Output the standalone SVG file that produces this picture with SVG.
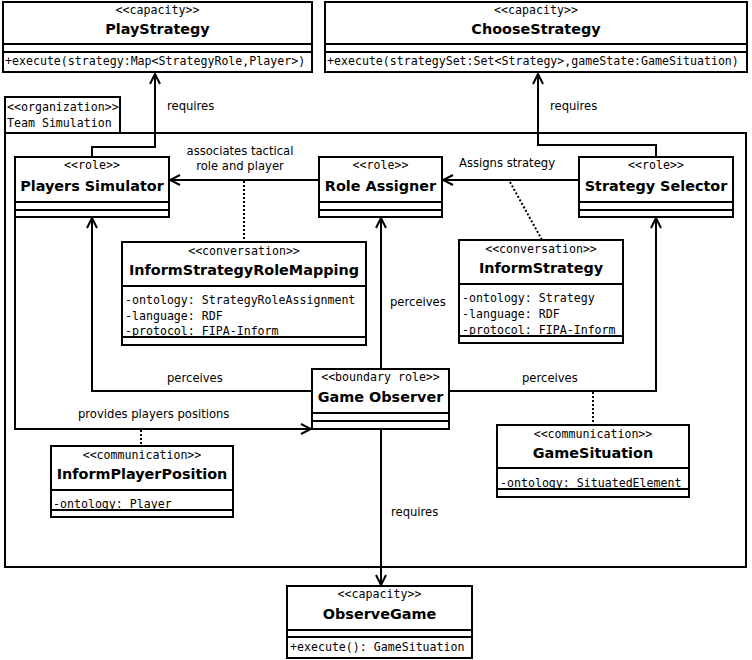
<svg xmlns="http://www.w3.org/2000/svg" width="752" height="660" viewBox="0 0 752 660">
<defs>
<style>
.box{fill:#fff;stroke:#000;stroke-width:2}
.ln{stroke:#000;stroke-width:2;fill:none}
.dot{stroke:#000;stroke-width:2;fill:none;stroke-dasharray:2,2}
.mono{font-family:"DejaVu Sans Mono","Liberation Mono",monospace;font-size:11.6px;fill:#000}
.st{font-family:"DejaVu Sans Mono","Liberation Mono",monospace;font-size:11.6px;fill:#000;text-anchor:middle}
.nm{font-family:"DejaVu Sans","Liberation Sans",sans-serif;font-size:14.4px;font-weight:bold;fill:#000;text-anchor:middle}
.lb{font-family:"DejaVu Sans","Liberation Sans",sans-serif;font-size:11.6px;fill:#000}
</style>
<marker id="arr" viewBox="0 0 12 12" refX="11" refY="6" markerWidth="12" markerHeight="12" markerUnits="userSpaceOnUse" orient="auto">
<path d="M1,1 L11,6 L1,11" fill="none" stroke="#000" stroke-width="2"/>
</marker>
</defs>

<g id="team-simulation">
<rect class="box" x="5" y="97" width="115" height="36"/>
<rect class="box" x="5" y="133" width="741" height="434"/>
<text class="mono" x="7" y="111">&lt;&lt;organization&gt;&gt;</text>
<text class="mono" x="7" y="127">Team Simulation</text>
</g>

<g id="play-strategy">
<rect class="box" x="3" y="2" width="309" height="70"/>
<line class="ln" x1="3" y1="44" x2="312" y2="44"/>
<line class="ln" x1="3" y1="52" x2="312" y2="52"/>
<text class="st" x="157.5" y="14">&lt;&lt;capacity&gt;&gt;</text>
<text class="nm" x="157.5" y="34">PlayStrategy</text>
<text class="mono" x="5" y="65">+execute(strategy:Map&lt;StrategyRole,Player&gt;)</text>
</g>

<g id="choose-strategy">
<rect class="box" x="325" y="2" width="422" height="70"/>
<line class="ln" x1="325" y1="44" x2="747" y2="44"/>
<line class="ln" x1="325" y1="52" x2="747" y2="52"/>
<text class="st" x="536" y="14">&lt;&lt;capacity&gt;&gt;</text>
<text class="nm" x="536" y="34">ChooseStrategy</text>
<text class="mono" x="327" y="65">+execute(strategySet:Set&lt;Strategy&gt;,gameState:GameSituation)</text>
</g>

<g id="connectors">
<path class="ln" d="M92,157 V147 H155 V74" marker-end="url(#arr)"/>
<path class="ln" d="M656,157 V145 H538 V74" marker-end="url(#arr)"/>
<path class="ln" d="M319,180 H170" marker-end="url(#arr)"/>
<path class="ln" d="M579,180 H443" marker-end="url(#arr)"/>
<path class="ln" d="M312,391 H92 V218" marker-end="url(#arr)"/>
<path class="ln" d="M449,391 H656 V218" marker-end="url(#arr)"/>
<path class="ln" d="M381,369 V218" marker-end="url(#arr)"/>
<path class="ln" d="M15,217 V429 H311" marker-end="url(#arr)"/>
<path class="ln" d="M381,429 V585" marker-end="url(#arr)"/>
<path class="dot" d="M244,181 V242"/>
<path class="dot" d="M510,182 L542,240"/>
<path class="dot" d="M141,430 V446"/>
<path class="dot" d="M593,392 V425"/>
<text class="lb" x="167" y="110">requires</text>
<text class="lb" x="550" y="110">requires</text>
<text class="lb" x="240" y="155" text-anchor="middle">associates tactical</text>
<text class="lb" x="240" y="170" text-anchor="middle">role and player</text>
<text class="lb" x="459" y="167">Assigns strategy</text>
<text class="lb" x="390" y="306">perceives</text>
<text class="lb" x="167" y="382">perceives</text>
<text class="lb" x="522" y="382">perceives</text>
<text class="lb" x="78" y="418">provides players positions</text>
<text class="lb" x="391" y="516">requires</text>
</g>

<g id="players-simulator">
<rect class="box" x="15" y="157" width="154" height="60"/>
<line class="ln" x1="15" y1="202" x2="169" y2="202"/>
<line class="ln" x1="15" y1="210" x2="169" y2="210"/>
<text class="st" x="92" y="169">&lt;&lt;role&gt;&gt;</text>
<text class="nm" x="92" y="191">Players Simulator</text>
</g>

<g id="role-assigner">
<rect class="box" x="319" y="157" width="123" height="60"/>
<line class="ln" x1="319" y1="202" x2="442" y2="202"/>
<line class="ln" x1="319" y1="210" x2="442" y2="210"/>
<text class="st" x="380.5" y="169">&lt;&lt;role&gt;&gt;</text>
<text class="nm" x="380.5" y="191">Role Assigner</text>
</g>

<g id="strategy-selector">
<rect class="box" x="579" y="157" width="154" height="60"/>
<line class="ln" x1="579" y1="202" x2="733" y2="202"/>
<line class="ln" x1="579" y1="210" x2="733" y2="210"/>
<text class="st" x="656" y="169">&lt;&lt;role&gt;&gt;</text>
<text class="nm" x="656" y="191">Strategy Selector</text>
</g>

<g id="inform-strategy-role-mapping">
<rect class="box" x="122" y="242" width="244" height="103"/>
<line class="ln" x1="122" y1="286" x2="366" y2="286"/>
<line class="ln" x1="122" y1="337" x2="366" y2="337"/>
<text class="st" x="244" y="255">&lt;&lt;conversation&gt;&gt;</text>
<text class="nm" x="244" y="275">InformStrategyRoleMapping</text>
<text class="mono" x="125" y="304">-ontology: StrategyRoleAssignment</text>
<text class="mono" x="125" y="320">-language: RDF</text>
<text class="mono" x="125" y="335">-protocol: FIPA-Inform</text>
</g>

<g id="inform-strategy">
<rect class="box" x="459" y="240" width="164" height="103"/>
<line class="ln" x1="459" y1="284" x2="623" y2="284"/>
<line class="ln" x1="459" y1="336" x2="623" y2="336"/>
<text class="st" x="541" y="253">&lt;&lt;conversation&gt;&gt;</text>
<text class="nm" x="541" y="273">InformStrategy</text>
<text class="mono" x="462" y="302">-ontology: Strategy</text>
<text class="mono" x="462" y="318">-language: RDF</text>
<text class="mono" x="462" y="334">-protocol: FIPA-Inform</text>
</g>

<g id="game-observer">
<rect class="box" x="312" y="369" width="137" height="60"/>
<line class="ln" x1="312" y1="413" x2="449" y2="413"/>
<line class="ln" x1="312" y1="421" x2="449" y2="421"/>
<text class="st" x="380.5" y="381">&lt;&lt;boundary role&gt;&gt;</text>
<text class="nm" x="380.5" y="402">Game Observer</text>
</g>

<g id="inform-player-position">
<rect class="box" x="51" y="446" width="182" height="71"/>
<line class="ln" x1="51" y1="490" x2="233" y2="490"/>
<line class="ln" x1="51" y1="510" x2="233" y2="510"/>
<text class="st" x="142" y="459">&lt;&lt;communication&gt;&gt;</text>
<text class="nm" x="142" y="479">InformPlayerPosition</text>
<text class="mono" x="53" y="508">-ontology: Player</text>
</g>

<g id="game-situation">
<rect class="box" x="497" y="425" width="192" height="72"/>
<line class="ln" x1="497" y1="468" x2="689" y2="468"/>
<line class="ln" x1="497" y1="489" x2="689" y2="489"/>
<text class="st" x="593" y="438">&lt;&lt;communication&gt;&gt;</text>
<text class="nm" x="593" y="458">GameSituation</text>
<text class="mono" x="500" y="487">-ontology: SituatedElement</text>
</g>

<g id="observe-game">
<rect class="box" x="287" y="586" width="185" height="72"/>
<line class="ln" x1="287" y1="630" x2="472" y2="630"/>
<line class="ln" x1="287" y1="637" x2="472" y2="637"/>
<text class="st" x="379.5" y="598">&lt;&lt;capacity&gt;&gt;</text>
<text class="nm" x="379.5" y="619">ObserveGame</text>
<text class="mono" x="290" y="651">+execute(): GameSituation</text>
</g>
</svg>
